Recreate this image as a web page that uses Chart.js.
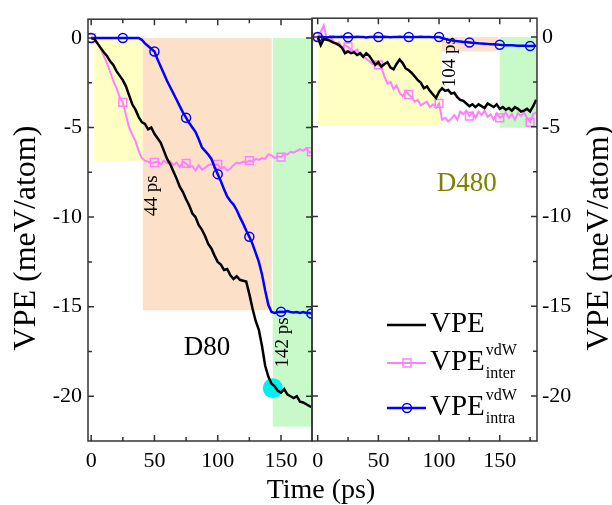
<!DOCTYPE html>
<html>
<head>
<meta charset="utf-8">
<script src="https://cdn.jsdelivr.net/npm/chart.js@4.4.1/dist/chart.umd.min.js"></script>
<style>
  body { margin: 0; background: #fff; }
  #wrap { position: relative; width: 612px; height: 505px; }
  #wrap canvas { position: absolute; left: 0; top: 0; }
</style>
</head>
<body>
<div id="wrap">
  <canvas id="left" width="612" height="505"></canvas>
  <canvas id="right" width="612" height="505"></canvas>
</div>
<script>
// ---- D80 panel (left) ----
const timeL = [0, 2.5, 5, 7.5, 10, 12.5, 15, 17.5, 20, 22.5, 25, 27.5, 30, 32.5, 35, 37.5, 40, 42.5, 45, 47.5,
  50, 52.5, 55, 57.5, 60, 62.5, 65, 67.5, 70, 72.5, 75, 77.5, 80, 82.5, 85, 87.5, 90, 92.5, 95, 97.5,
  100, 102.5, 105, 107.5, 110, 112.5, 115, 117.5, 120, 122.5, 125, 127.5, 130, 132.5, 135, 137.5, 140, 142.5, 145, 147.5,
  150, 152.5, 155, 157.5, 160, 162.5, 165, 167.5, 170, 172.5, 174];
const vpeL = [0, -0.05, -0.3, -0.55, -0.8, -1.0, -1.3, -1.5, -1.85, -2.1, -2.35, -2.7, -3.2, -3.7, -4.0, -4.4, -4.7, -4.8, -5.1, -5.0,
  -5.35, -5.6, -5.85, -6.3, -6.75, -7.05, -7.45, -7.85, -8.3, -8.6, -9.0, -9.35, -9.8, -10.0, -10.45, -10.7, -11.05, -11.5, -11.75, -12.15,
  -12.5, -12.65, -12.95, -12.9, -13.25, -13.45, -13.3, -13.5, -13.55, -13.6, -14.3, -15.1, -15.8, -16.3, -17.2, -18.3, -18.9, -19.3, -19.45, -19.7,
  -19.8, -19.6, -19.9, -20.0, -20.1, -20.0, -20.3, -20.35, -20.45, -20.55, -20.6];
const interL = [0, -0.1, -0.3, -0.6, -1.0, -1.4, -1.9, -2.4, -2.8, -3.3, -3.6, -4.3, -5.0, -5.4, -5.75, -6.3, -6.7, -6.85, -6.9, -7.0,
  -6.95, -6.9, -7.05, -6.85, -7.0, -6.9, -7.1, -6.95, -7.2, -6.9, -7.0, -7.2, -7.15, -7.4, -7.1, -7.35, -7.25, -7.1, -7.05, -7.1,
  -7.05, -7.3, -7.2, -7.4, -7.3, -7.1, -6.95, -7.0, -6.9, -6.95, -6.85, -6.9, -6.75, -6.8, -6.7, -6.75, -6.5, -6.55, -6.7, -6.6,
  -6.65, -6.45, -6.5, -6.35, -6.4, -6.3, -6.2, -6.3, -6.15, -6.4, -6.35];
const intraL = [0, 0, 0, 0, 0, 0, 0, 0, 0, 0, 0, 0, 0, 0, 0, 0, -0.1, -0.3, -0.45, -0.6,
  -0.75, -1.2, -1.6, -2.0, -2.4, -2.75, -3.1, -3.45, -3.8, -4.15, -4.45, -4.75, -5.0, -5.25, -5.65, -6.1, -6.3, -6.5, -6.75, -7.2,
  -7.6, -8.0, -8.45, -8.85, -9.1, -9.3, -9.6, -10.0, -10.35, -10.75, -11.1, -11.5, -12.0, -12.5, -13.2, -14.1, -14.9, -15.3, -15.35, -15.3,
  -15.28, -15.3, -15.25, -15.3, -15.32, -15.3, -15.35, -15.3, -15.35, -15.35, -15.38];
const marksL = [0, 25, 50, 75, 100, 125, 150, 174];
const hotT = [143.5];
const hotV = [-19.55];

// ---- D480 panel (right) ----
const timeR = [0, 2.5, 5, 7.5, 10, 12.5, 15, 17.5, 20, 22.5, 25, 27.5, 30, 32.5, 35, 37.5, 40, 42.5, 45, 47.5,
  50, 52.5, 55, 57.5, 60, 62.5, 65, 67.5, 70, 72.5, 75, 77.5, 80, 82.5, 85, 87.5, 90, 92.5, 95, 97.5,
  100, 102.5, 105, 107.5, 110, 112.5, 115, 117.5, 120, 122.5, 125, 127.5, 130, 132.5, 135, 137.5, 140, 142.5, 145, 147.5,
  150, 152.5, 155, 157.5, 160, 162.5, 165, 167.5, 170, 172.5, 175, 177.5, 180];
const vpeR = [0, -0.45, -0.1, -0.15, -0.2, -0.3, -0.35, -0.45, -0.6, -0.9, -0.8, -0.9, -0.85, -1.0, -0.9, -1.1, -0.9, -1.05, -1.3, -1.55,
  -1.4, -1.65, -1.5, -1.4, -1.7, -1.8, -1.5, -1.25, -1.45, -1.75, -1.85, -2.0, -2.2, -2.4, -2.55, -2.85, -2.75, -3.0, -3.2, -3.4,
  -3.05, -2.85, -3.0, -2.95, -3.15, -3.1, -3.35, -3.5, -3.55, -3.7, -3.85, -3.75, -3.9, -3.75, -3.85, -3.95, -3.7, -3.8, -3.9, -3.75,
  -4.0, -3.9, -4.05, -3.95, -4.1, -3.9, -4.0, -4.15, -4.1, -4.0, -4.15, -3.85, -3.5];
const interR = [0, 0.3, 0.65, -0.1, 0.05, -0.2, -0.4, -0.3, -0.6, -0.45, -0.55, -0.7, -0.8, -0.7, -1.0, -1.1, -1.2, -1.35, -1.5, -1.4,
  -1.55, -1.7, -2.2, -2.6, -2.5, -2.9, -2.7, -3.1, -3.3, -3.0, -3.2, -3.35, -3.6, -3.5, -3.8, -3.7, -3.6, -3.9, -3.75, -3.95,
  -3.7, -4.6, -4.5, -4.7, -4.55, -4.35, -4.6, -4.15, -4.3, -4.1, -4.4, -4.2, -4.5, -4.15, -4.35, -4.1, -4.45, -4.3, -4.6, -4.25,
  -4.5, -4.4, -4.2, -4.5, -4.3, -4.6, -4.25, -4.4, -4.2, -4.5, -4.75, -4.3, -4.2];
const intraR = [0, 0.02, 0, -0.02, 0, 0.01, 0, 0, 0.02, 0, -0.01, 0, 0, 0.01, 0, 0, -0.02, 0, 0, 0.01,
  0, 0, 0.01, 0, -0.01, 0, 0, 0.02, 0, 0, 0, -0.01, 0, 0, 0.01, 0, 0, 0, -0.01, 0,
  0, -0.05, -0.1, -0.15, -0.18, -0.21, -0.23, -0.25, -0.27, -0.28, -0.3, -0.32, -0.33, -0.35, -0.36, -0.37, -0.38, -0.4, -0.4, -0.41,
  -0.43, -0.44, -0.45, -0.45, -0.46, -0.47, -0.48, -0.48, -0.49, -0.5, -0.5, -0.5, -0.48];
const marksR = [0, 25, 50, 75, 100, 125, 150, 175];

// ticks and shaded stages [t0, t1, vTop, vBottom]
const xTicks = [0, 50, 100, 150];
const xMinorL = [25, 75, 125];
const xMinorR = [25, 75, 125, 175];
const yTicks = [0, -5, -10, -15, -20];
const yMinor = [-2.5, -7.5, -12.5, -17.5];
const stagesL = [[2.4, 40.8, 0, -6.86], [40.8, 142.7, 0, -15.2], [143.5, 175, 0, -21.7]];
const stagesR = [[0, 102.3, 0, -4.9], [102.3, 149, 0, -0.8], [150, 182, 0, -5.05]];
const stageColors = ["#ffffc4", "#fde0c8", "#c8f9c8"];

const FONT = "'Liberation Serif', 'Times New Roman', serif";
Chart.defaults.font.family = FONT;
Chart.defaults.color = "#000";
const PINK = "#ff80ff", BLUE = "#0000ff";

const toXY = (time, vals) => time.map((t, i) => ({ x: t, y: vals[i] }));

function lineSet(label, time, vals, color, width, style, marks, radius, order) {
    return {
        label, order, data: toXY(time, vals), borderColor: color, borderWidth: width, tension: 0, fill: false,
        pointStyle: style || "circle",
        pointRadius: c => (style && c.raw && marks.includes(c.raw.x)) ? radius : 0,
        pointBorderColor: color, pointBackgroundColor: "rgba(0,0,0,0)", pointBorderWidth: 1.5
    };
}

function drawText(ctx, text, x, y, size, color, rot) {
    ctx.save();
    ctx.translate(x, y);
    if (rot) ctx.rotate(rot);
    ctx.font = `${size}px ${FONT}`;
    ctx.fillStyle = color || "#000";
    ctx.textAlign = "center";
    ctx.textBaseline = "middle";
    ctx.fillText(text, 0, 0);
    ctx.restore();
}

function panelPlugin(p) {
    return {
        id: "panel",
        beforeDatasetsDraw(chart) {
            const { ctx, chartArea: a, scales: { x, y } } = chart;
            ctx.save();
            ctx.beginPath();
            ctx.rect(a.left, a.top, a.right - a.left, a.bottom - a.top);
            ctx.clip();
            p.stages.forEach((s, i) => {
                const x0 = x.getPixelForValue(s[0]), x1 = x.getPixelForValue(s[1]);
                const y0 = y.getPixelForValue(s[2]), y1 = y.getPixelForValue(s[3]);
                ctx.fillStyle = stageColors[i];
                ctx.fillRect(x0, y0, x1 - x0, y1 - y0);
            });
            ctx.restore();
            p.notes.forEach(n => drawText(ctx, n.text, x.getPixelForValue(n.t), y.getPixelForValue(n.v), n.size, n.color, n.rot));
        },
        afterDatasetsDraw(chart) {
            const { ctx, chartArea: a, scales: { x, y } } = chart;
            ctx.save();
            ctx.strokeStyle = "#333";
            ctx.lineWidth = 1.5;
            ctx.strokeRect(a.left, a.top, a.right - a.left, a.bottom - a.top);
            ctx.beginPath();
            const xt = (v, len) => {
                const px = x.getPixelForValue(v);
                ctx.moveTo(px, a.bottom); ctx.lineTo(px, a.bottom - len);
                ctx.moveTo(px, a.top); ctx.lineTo(px, a.top + len);
            };
            const yt = (v, len) => {
                const py = y.getPixelForValue(v);
                ctx.moveTo(a.left, py); ctx.lineTo(a.left + len, py);
                ctx.moveTo(a.right, py); ctx.lineTo(a.right - len, py);
            };
            xTicks.forEach(v => xt(v, 6));
            p.xMinor.forEach(v => xt(v, 4));
            yTicks.forEach(v => yt(v, 6));
            yMinor.forEach(v => yt(v, 4));
            ctx.stroke();
            ctx.restore();
        },
        afterDraw(chart) {
            if (p.extra) p.extra(chart);
        }
    };
}

function makePanel(id, p) {
    return new Chart(document.getElementById(id), {
        type: "line",
        data: { datasets: p.datasets },
        options: {
            responsive: false,
            animation: false,
            events: [],
            layout: { padding: p.padding },
            plugins: { legend: { display: false }, tooltip: { enabled: false } },
            scales: {
                x: {
                    type: "linear", min: p.xMin, max: p.xMax,
                    grid: { display: false, drawTicks: false }, border: { display: false },
                    ticks: { font: { size: 22 }, padding: 7, maxRotation: 0, autoSkip: false },
                    afterBuildTicks: s => { s.ticks = xTicks.map(v => ({ value: v })); },
                    afterFit: s => { s.height = 64; }
                },
                y: {
                    position: p.side, min: -22.5, max: 1.05,
                    grid: { display: false, drawTicks: false }, border: { display: false },
                    ticks: { font: { size: 22 }, padding: p.side === "left" ? 6 : 5 },
                    afterBuildTicks: s => { s.ticks = yTicks.map(v => ({ value: v })); },
                    afterFit: s => { s.width = p.axisW; }
                }
            }
        },
        plugins: [panelPlugin(p)]
    });
}

makePanel("left", {
    side: "left", axisW: 88, xMin: -2.5, xMax: 174.5,
    padding: { left: 0, right: 300, top: 15, bottom: 0 },
    stages: stagesL, xMinor: xMinorL,
    notes: [
        { text: "44 ps", t: 48.2, v: -8.8, size: 19, rot: -Math.PI / 2 },
        { text: "142 ps", t: 151.9, v: -17.0, size: 19, rot: -Math.PI / 2 },
        { text: "D80", t: 91.6, v: -17.3, size: 27 }
    ],
    datasets: [
        lineSet("VPE", timeL, vpeL, "#000", 2.5, null, marksL, 0, 0),
        lineSet("inter", timeL, interL, PINK, 2, "rect", marksL, 5.5, 2),
        lineSet("intra", timeL, intraL, BLUE, 2.5, "circle", marksL, 4.5, 1),
        { data: toXY(hotT, hotV), showLine: false, pointRadius: 10, pointBackgroundColor: "#00f0f0", pointBorderWidth: 0, order: 3 }
    ],
    extra(chart) {
        const { ctx } = chart;
        ctx.save();
        ctx.fillStyle = "#000";
        ctx.font = `32px ${FONT}`;
        ctx.textAlign = "center";
        ctx.translate(35, 238);
        ctx.rotate(-Math.PI / 2);
        ctx.fillText("VPE (meV/atom)", 0, 0);
        ctx.restore();
        ctx.save();
        ctx.fillStyle = "#000";
        ctx.font = `28px ${FONT}`;
        ctx.textAlign = "center";
        ctx.fillText("Time (ps)", 321, 498);
        ctx.restore();
    }
});

makePanel("right", {
    side: "right", axisW: 75, xMin: -4.7, xMax: 180.7,
    padding: { left: 312, right: 0, top: 15, bottom: 0 },
    stages: stagesR, xMinor: xMinorR,
    notes: [
        { text: "104 ps", t: 109.2, v: -1.4, size: 19, rot: -Math.PI / 2 },
        { text: "D480", t: 122.9, v: -8.2, size: 27, color: "#808000" }
    ],
    datasets: [
        lineSet("VPE", timeR, vpeR, "#000", 2.5, null, marksR, 0, 0),
        lineSet("inter", timeR, interR, PINK, 2, "rect", marksR, 5.5, 2),
        lineSet("intra", timeR, intraR, BLUE, 2.5, "circle", marksR, 4.5, 1)
    ],
    extra(chart) {
        const { ctx } = chart;
        ctx.save();
        ctx.fillStyle = "#000";
        ctx.font = `32px ${FONT}`;
        ctx.textAlign = "center";
        ctx.translate(608, 238);
        ctx.rotate(-Math.PI / 2);
        ctx.fillText("VPE (meV/atom)", 0, 0);
        ctx.restore();

        // legend with sub/superscripts
        const rows = [
            { color: "#000", width: 2.5, mark: null, sup: "", sub: "", y: 325 },
            { color: PINK, width: 2, mark: "rect", sup: "vdW", sub: "inter", y: 363 },
            { color: BLUE, width: 2.5, mark: "circle", sup: "vdW", sub: "intra", y: 408 }
        ];
        ctx.save();
        rows.forEach(r => {
            ctx.strokeStyle = r.color;
            ctx.lineWidth = r.width;
            ctx.beginPath();
            ctx.moveTo(387, r.y); ctx.lineTo(426, r.y);
            ctx.stroke();
            ctx.lineWidth = 1.5;
            if (r.mark === "rect") ctx.strokeRect(403, r.y - 4, 8, 8);
            if (r.mark === "circle") { ctx.beginPath(); ctx.arc(407, r.y, 4.5, 0, Math.PI * 2); ctx.stroke(); }
            ctx.fillStyle = "#000";
            ctx.textBaseline = "alphabetic";
            ctx.font = `29px ${FONT}`;
            ctx.fillText("VPE", 430, r.y + 7);
            const w = ctx.measureText("VPE").width;
            ctx.font = `16px ${FONT}`;
            if (r.sup) ctx.fillText(r.sup, 430 + w + 1, r.y - 8);
            if (r.sub) ctx.fillText(r.sub, 430 + w + 1, r.y + 15);
        });
        ctx.restore();
    }
});
</script>
</body>
</html>
